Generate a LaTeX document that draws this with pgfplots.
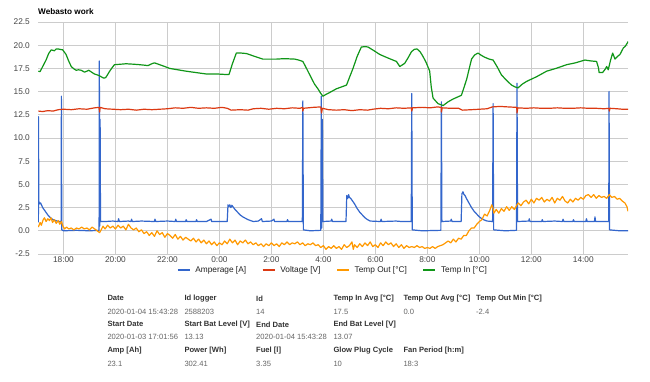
\documentclass[border=0pt]{standalone}
\usepackage{fontspec}
\setmainfont{Liberation Sans}
\usepackage{pgfplots}
\pgfplotsset{compat=1.18}
\definecolor{cblue}{HTML}{3366CC}
\definecolor{cred}{HTML}{DC3912}
\definecolor{corange}{HTML}{FF9900}
\definecolor{cgreen}{HTML}{109618}
\definecolor{gridc}{HTML}{CCCCCC}
\definecolor{basec}{HTML}{666666}
\definecolor{tickc}{HTML}{444444}
\definecolor{legc}{HTML}{222222}
\definecolor{headc}{HTML}{333333}
\definecolor{valc}{HTML}{666666}
\newcommand{\tickfont}{\fontsize{8.3}{10}\selectfont}
\newcommand{\tabfont}{\fontsize{7.6}{9}\selectfont}
\begin{document}
\begin{tikzpicture}[x=1pt,y=1pt]
\path[use as bounding box, fill=white] (0,0) rectangle (650,382);
\node[anchor=west, inner sep=0pt, font=\bfseries\fontsize{8.2}{10}\selectfont] at (38,370.3) {Webasto work};
\begin{axis}[
  at={(38pt,128pt)}, anchor=south west,
  width=590pt, height=232pt, scale only axis,
  xmin=17.02, xmax=39.72, ymin=-2.5, ymax=22.5,
  axis line style={draw=none},
  tick style={draw=none},
  major tick length=0pt,
  xtick={18,20,22,24,26,28,30,32,34,36,38},
  xticklabels={18:00,20:00,22:00,0:00,2:00,4:00,6:00,8:00,10:00,12:00,14:00},
  ytick={-2.5,0,2.5,5,7.5,10,12.5,15,17.5,20,22.5},
  yticklabel={\pgfmathprintnumber[fixed,fixed zerofill,precision=1]{\tick}},
  /pgf/number format/assume math mode=true,
  ticklabel style={font=\tickfont, text=tickc},
  yticklabel style={inner sep=0pt, xshift=-8pt},
  xticklabel style={inner sep=0pt, yshift=-2.5pt},
  grid=major,
  major grid style={draw=gridc, line width=0.8pt},
  extra y ticks={0},
  extra y tick labels={},
  extra y tick style={grid style={draw=basec, line width=1pt}},
  legend columns=4,
  legend style={at={(0.5,0)}, anchor=center, yshift=-16pt, draw=none, fill=none,
    font=\tickfont, text=legc, inner sep=0pt,
    /tikz/every odd column/.append style={column sep=3pt},
    /tikz/every even column/.append style={column sep=14pt}},
  legend cell align=left,
  legend image code/.code={\draw[#1] (0pt,0pt) -- (12pt,0pt);},
  every axis plot/.append style={line width=1.2pt, line join=round},
]
% Amperage [A]
\addplot[cblue] coordinates {
(17.035,0.9) (17.04,12.3) (17.05,3.2) (17.08,2.9) (17.12,3.0) (17.2,2.5) (17.3,2.1) (17.4,1.7) (17.5,1.4) (17.6,1.2) (17.7,1.1) (17.8,1.0) (17.91,1.0)
(17.92,14.5) (17.935,0.1) (18.0,0.0) (18.5,0.05) (19.0,0.0) (19.37,0.05)
(19.38,18.3) (19.395,0.5) (19.41,12.0) (19.425,1.0) (19.6,1.0) (19.9,1.05) (20.1,1.0) (20.12,1.3) (20.15,1.0) (20.5,1.05) (20.6,1.0) (20.62,1.25) (20.65,1.0)
(21.0,1.05) (21.5,1.0) (21.52,1.25) (21.55,1.0) (22.0,1.05) (22.3,1.0) (22.32,1.25) (22.35,1.0) (22.7,1.0) (22.72,1.2) (22.75,1.0) (23.1,1.0) (23.12,1.2) (23.15,1.0)
(23.5,1.0) (23.68,1.25) (23.7,1.0) (24.3,1.0)
(24.33,2.8) (24.36,2.6) (24.4,2.8) (24.44,2.5) (24.48,2.75) (24.52,2.6) (24.6,2.3) (24.7,2.0) (24.8,1.7) (24.9,1.5) (25.0,1.35) (25.1,1.2) (25.2,1.1) (25.3,1.0)
(25.5,1.05) (25.62,1.3) (25.65,1.0) (26.0,1.05) (26.1,1.25) (26.12,1.0) (26.6,1.0) (26.62,1.2) (26.65,1.0) (27.19,1.0)
(27.21,14.0) (27.23,0.1) (27.5,0.0) (27.9,0.05) (27.92,14.5) (27.94,0.3) (27.96,12.0) (27.98,1.0)
(28.3,1.05) (28.32,1.25) (28.35,1.0) (28.87,1.0)
(28.9,3.8) (28.94,3.5) (28.97,3.9) (29.0,3.6) (29.05,3.5) (29.1,3.3) (29.2,2.9) (29.3,2.4) (29.4,2.0) (29.5,1.7) (29.6,1.4) (29.7,1.2) (29.8,1.05)
(30.2,1.0) (30.22,1.25) (30.25,1.0) (30.8,1.05) (31.0,1.0) (31.38,1.0)
(31.40,14.8) (31.42,0.1) (31.8,0.0) (32.52,0.05) (32.54,13.9) (32.56,1.0)
(32.9,1.05) (32.92,1.25) (32.95,1.0) (33.3,1.0)
(33.33,4.0) (33.37,4.2) (33.41,3.9) (33.45,3.8) (33.5,3.5) (33.6,3.0) (33.7,2.5) (33.8,2.1) (33.9,1.8) (34.0,1.5) (34.1,1.3) (34.2,1.15) (34.3,1.05) (34.51,1.0)
(34.53,13.7) (34.55,0.1) (35.0,0.0) (35.43,0.05) (35.45,15.9) (35.47,1.0)
(35.9,1.05) (35.92,1.3) (35.95,1.0) (36.4,1.0) (36.42,1.2) (36.45,1.0) (36.9,1.05) (37.2,1.0) (37.22,1.25) (37.25,1.0)
(37.6,1.0) (37.62,1.2) (37.65,1.0) (38.1,1.0) (38.12,1.3) (38.15,1.0) (38.43,1.0) (38.45,1.5) (38.47,1.0) (38.98,1.0)
(38.99,15.0) (39.01,0.1) (39.4,0.0) (39.72,0.0)
};
\addlegendentry{Amperage [A]}
% Voltage [V]
\addplot[cred] coordinates {
(17.035,12.9) (17.2,12.85) (17.4,12.95) (17.6,12.9) (17.8,13.05) (18.0,13.1) (18.3,13.05) (18.6,13.15) (18.9,13.1) (19.2,13.25) (19.37,13.3) (19.39,12.8) (19.41,13.3)
(19.6,13.15) (19.9,13.1) (20.2,13.05) (20.5,13.1) (20.8,13.0) (21.1,13.1) (21.4,13.05) (21.7,13.1) (22.0,13.15) (22.3,13.25) (22.6,13.2) (22.9,13.3) (23.2,13.2)
(23.5,13.25) (23.8,13.2) (24.1,13.3) (24.3,13.2) (24.45,13.0) (24.8,13.05) (25.1,13.0) (25.3,13.15) (25.6,13.2) (25.9,13.1) (26.2,13.2) (26.5,13.15)
(26.8,13.25) (27.1,13.2) (27.2,13.3) (27.21,12.9) (27.23,13.2) (27.6,13.3) (27.9,13.35) (27.93,12.7) (27.96,13.2) (28.2,13.05) (28.5,13.0) (28.8,13.05)
(29.1,12.95) (29.4,13.05) (29.7,13.0) (29.9,13.1) (30.2,13.2) (30.5,13.15) (30.8,13.25) (31.1,13.2) (31.38,13.25) (31.4,12.9) (31.43,13.25) (31.8,13.3)
(32.1,13.25) (32.4,13.35) (32.53,13.3) (32.54,12.8) (32.57,13.25) (32.9,13.2) (33.2,13.2) (33.35,13.0) (33.7,13.05) (34.0,13.1) (34.3,13.15) (34.5,13.35)
(34.8,13.4) (35.1,13.35) (35.44,13.3) (35.45,12.7) (35.48,13.25) (35.8,13.2) (36.1,13.25) (36.4,13.2) (36.7,13.2) (37.0,13.25) (37.3,13.2) (37.6,13.2)
(37.9,13.25) (38.2,13.2) (38.5,13.2) (38.8,13.15) (38.99,13.2) (39.0,12.9) (39.03,13.2) (39.3,13.15) (39.5,13.1) (39.72,13.1)
};
\addlegendentry{Voltage [V]}
% Temp Out [°C]
\addplot[corange] coordinates {
(17.035,0.4) (17.10,0.9) (17.15,0.6) (17.22,1.2) (17.27,1.4) (17.33,1.0) (17.40,1.3) (17.46,1.1) (17.52,1.4) (17.58,0.9) (17.65,1.2) (17.72,0.8) (17.80,1.1)
(17.86,0.7) (17.92,1.0) (17.98,0.5) (18.04,0.2) (18.12,0.4) (18.20,0.2) (18.30,0.3) (18.40,0.1) (18.50,0.3) (18.60,0.2) (18.70,0.4) (18.80,0.2) (18.90,0.3)
(19.00,0.1) (19.10,0.4) (19.20,0.2) (19.30,0.0) (19.39,-0.2) (19.45,0.1) (19.52,0.5) (19.60,0.2) (19.70,0.6) (19.80,0.3) (19.90,0.5) (20.00,0.2) (20.10,0.6)
(20.20,0.3) (20.30,0.5) (20.40,0.1) (20.50,0.7) (20.60,0.3) (20.70,0.1) (20.80,0.3) (20.90,-0.1) (21.00,0.1) (21.10,-0.3) (21.20,-0.1) (21.30,-0.5) (21.40,-0.2)
(21.50,-0.6) (21.60,0.0) (21.70,-0.4) (21.80,-0.2) (21.90,-0.7) (22.00,-0.3) (22.10,-0.5) (22.20,-0.8) (22.30,-0.4) (22.40,-0.9) (22.50,-0.6) (22.60,-1.0)
(22.70,-0.7) (22.80,-0.9) (22.90,-1.1) (23.00,-0.8) (23.10,-1.2) (23.20,-0.9) (23.30,-1.3) (23.40,-1.0) (23.50,-1.4) (23.60,-1.1) (23.70,-1.5) (23.80,-1.2)
(23.90,-1.6) (24.00,-1.3) (24.10,-1.5) (24.20,-1.1) (24.30,-1.4) (24.40,-0.9) (24.50,-1.3) (24.60,-1.0) (24.70,-1.5) (24.80,-1.1) (24.90,-1.3) (25.00,-1.0)
(25.10,-1.4) (25.20,-1.2) (25.30,-1.5) (25.40,-1.3) (25.50,-1.6) (25.60,-1.4) (25.70,-1.7) (25.80,-1.4) (25.90,-1.6) (26.00,-1.3) (26.10,-1.6) (26.20,-1.4)
(26.30,-1.7) (26.40,-1.3) (26.50,-1.5) (26.60,-1.2) (26.70,-1.5) (26.80,-1.3) (26.90,-1.4) (27.00,-1.2) (27.10,-1.5) (27.20,-1.3) (27.30,-1.6) (27.40,-1.4)
(27.50,-1.5) (27.60,-1.3) (27.70,-1.6) (27.80,-1.5) (27.90,-1.8) (28.00,-1.6) (28.10,-2.0) (28.20,-1.7) (28.30,-1.9) (28.40,-1.6) (28.50,-1.9) (28.60,-1.7)
(28.70,-2.0) (28.80,-1.5) (28.90,-1.8) (29.00,-1.6) (29.10,-1.2) (29.15,-2.0) (29.20,-1.5) (29.30,-1.8) (29.40,-1.4) (29.50,-1.7) (29.60,-1.3) (29.70,-1.6)
(29.80,-1.2) (29.90,-1.7) (30.00,-1.5) (30.10,-1.8) (30.20,-1.3) (30.30,-1.6) (30.40,-1.2) (30.50,-1.5) (30.60,-1.3) (30.70,-1.7) (30.80,-1.4) (30.90,-1.8)
(31.00,-1.5) (31.10,-1.9) (31.20,-1.6) (31.30,-1.8) (31.40,-1.7) (31.50,-1.8) (31.60,-1.6) (31.70,-1.8) (31.80,-1.7) (31.90,-1.9) (32.00,-1.8) (32.10,-1.9)
(32.20,-1.7) (32.30,-1.9) (32.40,-1.7) (32.50,-1.6) (32.60,-1.5) (32.70,-1.3) (32.80,-1.1) (32.90,-1.3) (33.00,-0.9) (33.10,-1.2) (33.20,-0.8) (33.30,-0.9)
(33.40,-0.5) (33.50,-0.5) (33.60,0.0) (33.70,0.3) (33.80,0.3) (33.90,0.7) (34.00,1.0) (34.10,1.2) (34.20,1.8) (34.30,1.6) (34.40,2.2) (34.48,2.8) (34.52,2.5)
(34.56,1.9) (34.65,2.3) (34.75,1.9) (34.85,2.4) (34.95,2.1) (35.05,2.6) (35.15,2.2) (35.25,2.6) (35.35,2.3) (35.45,2.8) (35.50,3.0) (35.60,2.7) (35.70,3.1)
(35.80,3.3) (35.90,2.9) (36.00,3.4) (36.10,3.0) (36.20,3.5) (36.30,3.3) (36.40,3.6) (36.50,3.1) (36.60,3.4) (36.70,3.2) (36.80,3.6) (36.90,3.0) (37.00,3.5)
(37.10,3.3) (37.20,3.7) (37.30,3.2) (37.40,3.0) (37.50,3.4) (37.60,3.1) (37.70,3.5) (37.80,3.3) (37.90,3.6) (38.00,3.4) (38.10,3.8) (38.20,3.9) (38.30,3.6)
(38.40,3.9) (38.50,3.5) (38.60,3.8) (38.70,3.6) (38.80,3.7) (38.90,3.5) (39.00,3.9) (39.10,3.6) (39.20,3.7) (39.30,3.4) (39.40,3.5) (39.50,3.2) (39.60,3.0)
(39.68,2.6) (39.72,2.1)
};
\addlegendentry{Temp Out [°C]}
% Temp In [°C]
\addplot[cgreen] coordinates {
(17.035,17.2) (17.10,17.15) (17.2,17.7) (17.33,18.4) (17.43,19.1) (17.53,19.5) (17.65,19.4) (17.72,19.6) (17.78,19.6) (17.87,19.55) (17.97,19.5) (18.10,19.0)
(18.20,18.3) (18.30,17.7) (18.40,17.45) (18.49,17.3) (18.58,17.35) (18.68,17.3) (18.81,17.1) (18.90,17.2) (18.97,17.3) (19.08,17.1) (19.19,16.9) (19.30,16.8)
(19.39,16.7) (19.48,16.55) (19.55,16.45) (19.62,16.5) (19.67,16.7) (19.80,17.3) (19.96,17.9) (20.2,17.95) (20.41,18.0) (20.7,17.95) (20.93,17.9) (21.1,17.85)
(21.25,17.8) (21.40,18.0) (21.50,18.1) (21.60,18.0) (21.70,17.9) (21.90,17.7) (22.08,17.5) (22.4,17.35) (22.72,17.2) (23.1,17.05) (23.49,16.9) (23.9,16.9)
(24.2,16.85) (24.37,16.85) (24.50,18.0) (24.65,19.15) (24.85,19.15) (25.04,19.1) (25.35,18.8) (25.67,18.5) (25.9,18.5) (26.19,18.5) (26.5,18.55) (26.90,18.5)
(27.05,18.4) (27.21,18.25) (27.35,17.5) (27.54,16.45) (27.66,15.8) (27.79,15.3) (27.90,14.8) (27.98,14.5) (28.10,14.7) (28.24,14.9) (28.5,15.3) (28.89,15.7)
(29.00,16.5) (29.14,17.5) (29.30,18.8) (29.46,19.8) (29.60,19.85) (29.72,19.8) (29.95,19.4) (30.17,19.0) (30.5,18.6) (30.81,18.25) (30.94,17.7) (31.05,17.9)
(31.13,18.05) (31.25,18.6) (31.39,19.3) (31.50,19.55) (31.60,19.6) (31.72,19.3) (31.83,18.8) (31.96,18.1) (32.09,17.2) (32.15,15.5) (32.22,14.3) (32.41,13.7)
(32.61,13.5) (32.80,13.9) (32.99,14.2) (33.15,14.4) (33.31,14.6) (33.51,16.3) (33.70,18.5) (33.82,18.95) (33.95,19.15) (34.08,18.9) (34.21,18.7) (34.38,18.5)
(34.53,18.4) (34.70,17.6) (34.85,16.8) (35.05,16.2) (35.24,15.7) (35.38,15.5) (35.49,15.4) (35.65,15.8) (35.82,16.1) (36.2,16.6) (36.59,17.2) (36.95,17.5)
(37.36,17.9) (37.7,18.1) (38.06,18.4) (38.3,18.3) (38.51,18.25) (38.58,17.6) (38.61,17.05) (38.74,17.05) (38.84,17.4) (38.90,17.7) (38.96,17.35) (39.05,18.4)
(39.13,19.15) (39.22,18.5) (39.32,18.8) (39.41,19.0) (39.54,19.7) (39.62,19.9) (39.73,20.4)
};
\addlegendentry{Temp In [°C]}
\end{axis}
% info table
\begin{scope}[every node/.style={anchor=west, inner sep=0pt, font=\tabfont}]
\node[text=headc, font=\tabfont\bfseries] at (107.3,83.7) {Date};
\node[text=headc, font=\tabfont\bfseries] at (184.3,83.7) {Id logger};
\node[text=headc, font=\tabfont\bfseries] at (256,83.7) {Id};
\node[text=headc, font=\tabfont\bfseries] at (333.3,83.7) {Temp In Avg [°C]};
\node[text=headc, font=\tabfont\bfseries] at (403.3,83.7) {Temp Out Avg [°C]};
\node[text=headc, font=\tabfont\bfseries] at (476,83.7) {Temp Out Min [°C]};
\node[text=valc] at (107.3,70.3) {2020-01-04 15:43:28};
\node[text=valc] at (184.3,70.3) {2588203};
\node[text=valc] at (256,70.3) {14};
\node[text=valc] at (333.3,70.3) {17.5};
\node[text=valc] at (403.3,70.3) {0.0};
\node[text=valc] at (476,70.3) {-2.4};
\node[text=headc, font=\tabfont\bfseries] at (107.3,57.7) {Start Date};
\node[text=headc, font=\tabfont\bfseries] at (184.3,57.7) {Start Bat Level [V]};
\node[text=headc, font=\tabfont\bfseries] at (256,57.7) {End Date};
\node[text=headc, font=\tabfont\bfseries] at (333.3,57.7) {End Bat Level [V]};
\node[text=valc] at (107.3,44.7) {2020-01-03 17:01:56};
\node[text=valc] at (184.3,44.7) {13.13};
\node[text=valc] at (256,44.7) {2020-01-04 15:43:28};
\node[text=valc] at (333.3,44.7) {13.07};
\node[text=headc, font=\tabfont\bfseries] at (107.3,31.3) {Amp [Ah]};
\node[text=headc, font=\tabfont\bfseries] at (184.3,31.3) {Power [Wh]};
\node[text=headc, font=\tabfont\bfseries] at (256,31.3) {Fuel [l]};
\node[text=headc, font=\tabfont\bfseries] at (333.3,31.3) {Glow Plug Cycle};
\node[text=headc, font=\tabfont\bfseries] at (403.3,31.3) {Fan Period [h:m]};
\node[text=valc] at (107.3,18) {23.1};
\node[text=valc] at (184.3,18) {302.41};
\node[text=valc] at (256,18) {3.35};
\node[text=valc] at (333.3,18) {10};
\node[text=valc] at (403.3,18) {18:3};
\end{scope}
\end{tikzpicture}
\end{document}
